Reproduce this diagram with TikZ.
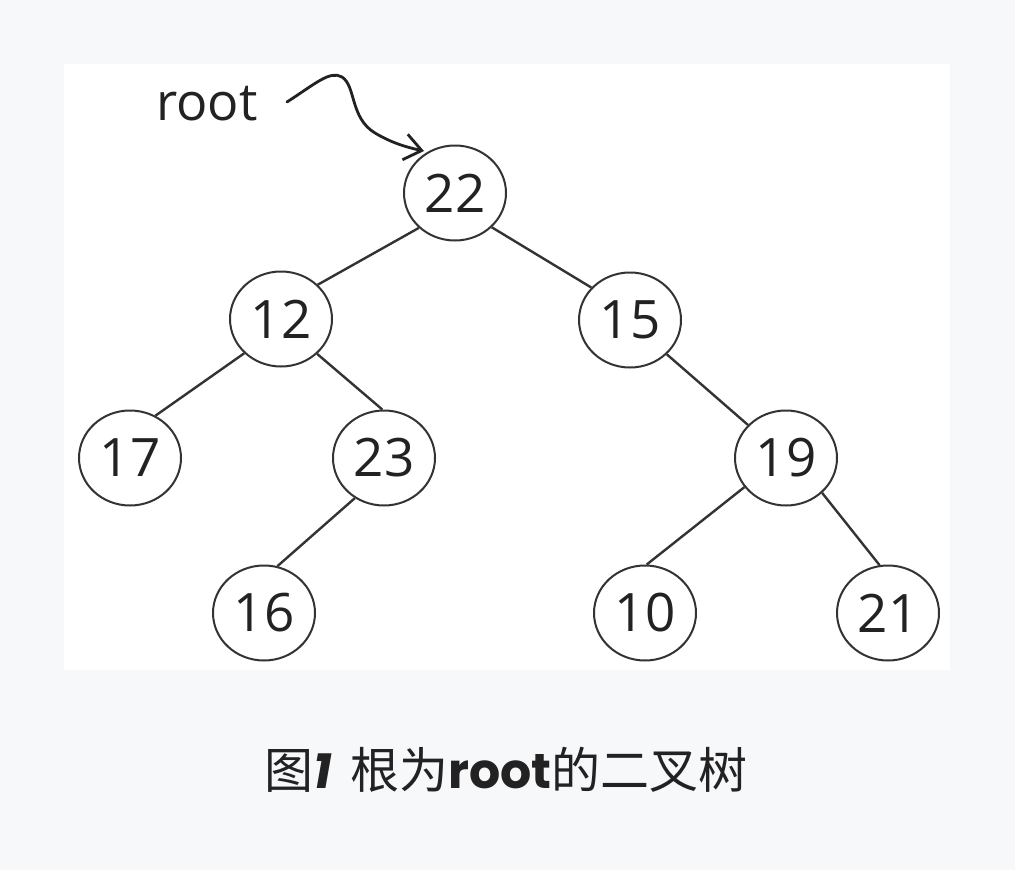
\documentclass[tikz,border=0pt]{standalone}
\usepackage{fontspec}
\usepackage{xcolor}
\usepackage{tikz}
\usetikzlibrary{shapes.geometric,arrows.meta}
\setmainfont{Open Sans}
\newfontfamily\cjk{Noto Sans CJK SC}
\newfontfamily\rnd{Poppins}
\definecolor{pagebg}{HTML}{F7F8FA}
\definecolor{ink}{HTML}{222222}
\definecolor{edgecol}{HTML}{333333}

\begin{document}
\begin{tikzpicture}[x=1pt, y=-1pt,
    treenode/.style={ellipse, draw=edgecol, line width=2pt, fill=white,
        minimum width=102pt, minimum height=95pt, inner sep=0pt,
        text=ink, font=\fontsize{53}{60}\selectfont},
    treeedge/.style={edgecol, line width=2.4pt}]
    \fill[pagebg] (0,0) rectangle (1015,870);
    \fill[white] (64,64) rectangle (950,670);
    % tree
    \node[treenode] (n22) at (455,193) {22};
    \node[treenode] (n12) at (281,319) {12};
    \node[treenode] (n15) at (630,320) {15};
    \node[treenode] (n17) at (130,458) {17};
    \node[treenode] (n23) at (384,458) {23};
    \node[treenode] (n19) at (786,458) {19};
    \node[treenode] (n16) at (264,613) {16};
    \node[treenode] (n10) at (645,613) {10};
    \node[treenode] (n21) at (888,613) {21};
    \draw[treeedge] (n22.224) -- (n12.43);
    \draw[treeedge] (n22.317) -- (n15.140);
    \draw[treeedge] (n12.223) -- (n17.59);
    \draw[treeedge] (n12.316) -- (n23.92);
    \draw[treeedge] (n23.234) -- (n16.74);
    \draw[treeedge] (n15.317) -- (n19.139);
    \draw[treeedge] (n19.215) -- (n10.88);
    \draw[treeedge] (n19.316) -- (n21.100);
    % root pointer
    \node[anchor=base west, inner sep=0pt, text=ink, font=\fontsize{52}{60}\selectfont] (rootlbl) at (156,120) {root};
    \coordinate (tail) at (287,102);
    \coordinate (tip) at (424,151);
    \draw[ink, line width=2.8pt, line cap=round, -{Straight Barb[length=17pt, width=26pt]}]
        (tail) .. controls (315,84) and (330,70) .. (342,77)
        .. controls (356,86) and (350,118) .. (375,133)
        .. controls (390,142) and (405,147) .. (tip);
    % caption
    \node[anchor=base, inner sep=0pt, text=ink, font=\fontsize{49}{56}\selectfont] (caption) at (506,788)
        {\cjk 图{\rnd\bfseries\itshape 1}\hspace{8pt} 根为{\rnd\bfseries root}的二叉树};
\end{tikzpicture}
\end{document}
